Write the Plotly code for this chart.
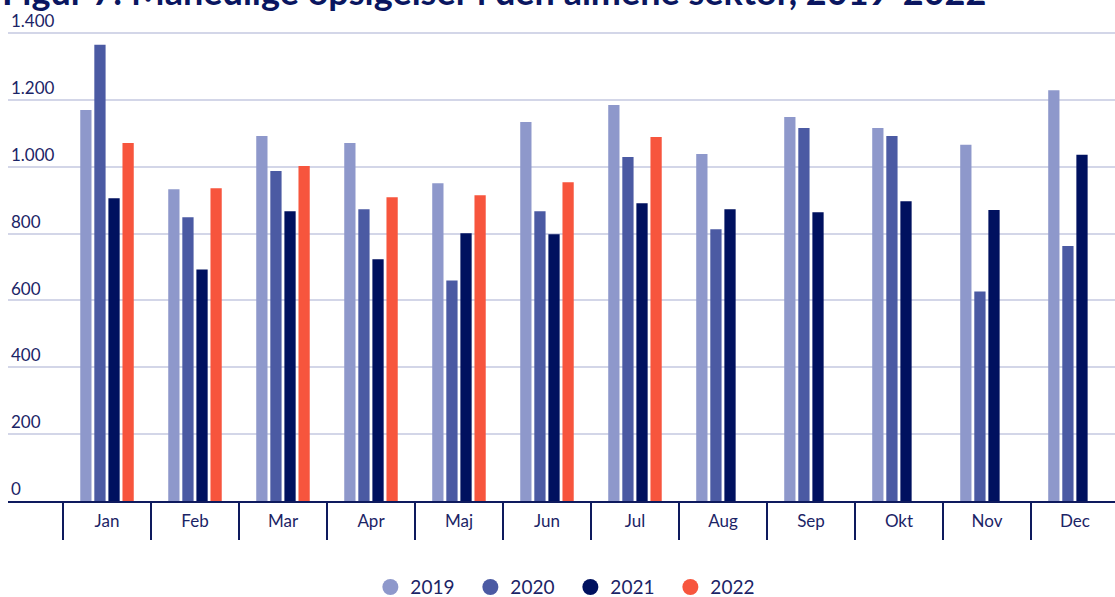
import plotly.graph_objects as go

months = ["Jan", "Feb", "Mar", "Apr", "Maj", "Jun", "Jul", "Aug", "Sep", "Okt", "Nov", "Dec"]
v2019 = [1170, 933, 1092, 1071, 951, 1134, 1185, 1038, 1149, 1116, 1066, 1229]
v2020 = [1365, 849, 987, 873, 660, 867, 1029, 813, 1116, 1092, 627, 763]
v2021 = [906, 693, 867, 723, 801, 798, 891, 873, 864, 897, 871, 1036]
v2022 = [1071, 936, 1002, 909, 915, 954, 1089, None, None, None, None, None]
years = ["2019", "2020", "2021", "2022"]
colors = ["#8E98CB", "#4B5AA3", "#00115F", "#F7553D"]
yticks = [0, 200, 400, 600, 800, 1000, 1200, 1400]
title = "Figur 7: Månedlige opsigelser i den almene sektor, 2019-2022"

NAVY = "#0E1A5E"
TXT = "#1B2466"
x = list(range(len(months)))

fig = go.Figure()
for name, vals, col in zip(years, [v2019, v2020, v2021, v2022], colors):
    fig.add_trace(go.Bar(x=x, y=vals, name=name, marker=dict(color=col, line=dict(width=0)),
                         showlegend=False))
for name, col in zip(years, colors):
    fig.add_trace(go.Scatter(x=[None], y=[None], mode="markers", name=name,
                             marker=dict(color=col, size=22, symbol="circle")))

fig.update_layout(
    width=1115, height=597,
    margin=dict(l=8, r=0, t=0, b=96, autoexpand=False),
    paper_bgcolor="white", plot_bgcolor="white",
    separators=",.",
    font=dict(family="Lato", color=TXT, size=17),
    barmode="group", bargap=0.36, bargroupgap=0.2,
    showlegend=True,
    legend=dict(orientation="h", x=0.508, xanchor="center", y=-0.172, yanchor="middle",
                font=dict(size=19, color=TXT), itemsizing="trace", entrywidth=55),
    xaxis=dict(range=[-1.125, 11.455], tickmode="array", tickvals=x, ticktext=months,
               showgrid=False, zeroline=False, showline=True, linecolor=NAVY, linewidth=2,
               ticks="outside", ticklen=4, tickcolor="rgba(0,0,0,0)",
               tickfont=dict(size=17, color=TXT),
               minor=dict(tickmode="array", tickvals=[i - 0.5 for i in x],
                          ticks="outside", ticklen=37, tickwidth=2, tickcolor=NAVY, showgrid=False)),
    yaxis=dict(range=[0, 1499], tickmode="array", tickvals=yticks,
               ticktext=[f"{v:,}".replace(",", ".") for v in yticks],
               ticklabelposition="inside top", showgrid=True, gridcolor="#D3D6E8", gridwidth=2,
               zeroline=False, showline=False, tickfont=dict(size=17, color=TXT)),
    annotations=[dict(text=title, xref="paper", yref="paper", x=-0.0072, y=0.9695,
                      xanchor="left", yanchor="bottom", showarrow=False,
                      font=dict(family="Lato", size=36, color="#0A1660", weight="bold"))],
)

fig.write_html("out.html")
